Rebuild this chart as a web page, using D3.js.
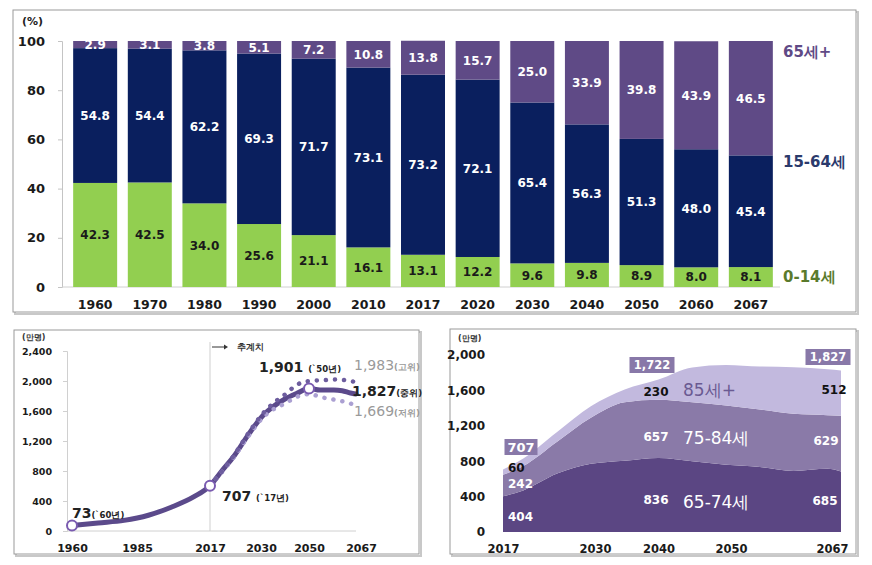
<!DOCTYPE html>
<html><head><meta charset="utf-8">
<script src="https://cdn.jsdelivr.net/npm/d3@7"></script>
<style>
body{margin:0;background:#fff}
svg{display:block}
text{font-family:"DejaVu Sans",Verdana,sans-serif}
</style>
</head><body>
<svg id="c" width="872" height="565"></svg>
<script>
// ---------- Panel 1: age structure (%) ----------
const years = ["1960","1970","1980","1990","2000","2010","2017","2020","2030","2040","2050","2060","2067"];
const age0_14  = [42.3,42.5,34.0,25.6,21.1,16.1,13.1,12.2,9.6,9.8,8.9,8.0,8.1];
const age15_64 = [54.8,54.4,62.2,69.3,71.7,73.1,73.2,72.1,65.4,56.3,51.3,48.0,45.4];
const age65p   = [2.9,3.1,3.8,5.1,7.2,10.8,13.8,15.7,25.0,33.9,39.8,43.9,46.5];
const pctTicks = [0,20,40,60,80,100];
const groupNames = ["0-14세","15-64세","65세+"];

// ---------- Panel 2: elderly population (만명) ----------
const lineYears = [1960,1970,1980,1990,2000,2010,2017,2020,2023,2027,2031,2035,2040,2045,2050,2054,2059,2062,2065,2067];
const lineMid   = [73,108,142,210,317,457,604,800,990,1302,1547,1658,1760,1836,1901,1880,1880,1871,1840,1827];
const projYearsL = [2017,2023,2027,2031,2035,2040,2045,2050,2055,2060,2065,2067];
const lineHigh  = [604,1000,1320,1575,1700,1820,1950,2000,2010,2020,2000,1983];
const lineLow   = [604,980,1280,1520,1620,1700,1790,1825,1780,1745,1700,1669];
const lineTicksX = [1960,1985,2017,2030,2050,2067];
const lineTicksY = [0,400,800,1200,1600,2000,2400];

// ---------- Panel 3: elderly by age band (만명) ----------
const areaYears = [2017,2020,2025,2030,2035,2040,2045,2050,2055,2060,2065,2067];
const age65_74 = [404,470,660,770,805,836,800,760,735,690,715,685];
const age75_84 = [242,275,360,520,660,657,665,670,650,645,605,629];
const age85p   = [60,85,110,130,145,230,395,458,485,527,520,512];
const totalYears  = [2017,2040,2067];
const totalLabels = [707,1722,1827];
const areaTicksX = [2017,2030,2040,2050,2067];
const areaTicksY = [0,400,800,1200,1600,2000];

const svg = d3.select("#c");

function frame(x,y,w,h){
  svg.append("rect").attr("x",x+2).attr("y",y+2).attr("width",w).attr("height",h)
    .attr("fill","none").attr("stroke","#c8c8c8").attr("stroke-width",2);
  svg.append("rect").attr("x",x).attr("y",y).attr("width",w).attr("height",h)
    .attr("fill","#fff").attr("stroke","#9a9a9a").attr("stroke-width",1);
}
frame(13,10,843,302);
frame(14,330,405,224);
frame(450,329,406,225);

// ===== Panel 1 =====
const colGreen="#92cf50", colNavy="#0a1f5e", colPurple="#5f4a86";
const table = years.map((y,i)=>({year:y, a:age0_14[i], b:age15_64[i], c:age65p[i]}));
const stack = d3.stack().keys(["a","b","c"])(table);
const x1 = d3.scaleBand().domain(years).range([67.7,778.3]).paddingInner(0.195).paddingOuter(0.1);
const y1 = d3.scaleLinear().domain([0,100]).range([287,41]);
const g1 = svg.append("g");

const yAx1 = g1.append("g").attr("transform","translate(62,0)")
  .call(d3.axisLeft(y1).tickValues(pctTicks).tickSize(4).tickPadding(13));
yAx1.selectAll("path,line").attr("stroke","#c4c4c4");
yAx1.selectAll("text").attr("font-size",13).attr("font-weight","bold").attr("fill","#1a1a1a");
g1.append("line").attr("x1",62).attr("x2",780).attr("y1",287).attr("y2",287).attr("stroke","#d0d0d0");

const xAx1 = g1.append("g").attr("transform","translate(0,287)")
  .call(d3.axisBottom(x1).tickSize(0).tickPadding(13));
xAx1.select(".domain").remove();
xAx1.selectAll("text").attr("font-size",12.5).attr("font-weight","bold").attr("fill","#1a1a1a");

const fills=[colGreen,colNavy,colPurple];
const txtCol=["#1a1a1a","#fff","#fff"];
stack.forEach((s,k)=>{
  g1.append("g").selectAll("rect").data(s).join("rect")
    .attr("x",d=>x1(d.data.year)).attr("width",x1.bandwidth())
    .attr("y",d=>y1(d[1])).attr("height",d=>y1(d[0])-y1(d[1]))
    .attr("fill",fills[k]);
  g1.append("g").selectAll("text").data(s).join("text")
    .attr("x",d=>x1(d.data.year)+x1.bandwidth()/2)
    .attr("y",d=>y1((d[0]+d[1])/2)).attr("dy","0.36em")
    .attr("text-anchor","middle").attr("font-size",12).attr("font-weight","bold")
    .attr("fill",txtCol[k])
    .text(d=>d3.format(".1f")(d[1]-d[0]));
});
g1.append("text").attr("x",22).attr("y",25).attr("font-size",11).attr("font-weight","bold").attr("fill","#222").text("(%)");
const legY=[282,167,57], legC=["#5a7a2c","#2b3a6c","#5f4a86"];
groupNames.forEach((n,i)=>{
  g1.append("text").attr("x",783).attr("y",legY[i]).attr("font-size",15).attr("font-weight","bold")
    .attr("fill",legC[i]).text(n);
});

// ===== Panel 2 =====
const x2 = d3.scaleLinear().domain(lineTicksX).range([72,137,210,261,309,356]);
const y2 = d3.scaleLinear().domain([0,2400]).range([531,351]);
const g2 = svg.append("g");
g2.append("text").attr("x",22).attr("y",340).attr("font-size",8).attr("font-weight","bold").attr("fill","#333").text("(만명)");
const yAx2 = g2.append("g").attr("transform","translate(67,0)")
  .call(d3.axisLeft(y2).tickValues(lineTicksY).tickFormat(d3.format(",")).tickSize(4).tickPadding(11));
yAx2.selectAll("path,line").attr("stroke","#d0d0d0");
yAx2.selectAll("text").attr("font-size",9.5).attr("font-weight","bold").attr("fill","#1a1a1a");
const xAx2 = g2.append("g").attr("transform","translate(0,531)")
  .call(d3.axisBottom(x2).tickValues(lineTicksX).tickFormat(d3.format("d")).tickSize(0).tickPadding(13));
xAx2.select(".domain").attr("stroke","#d0d0d0").attr("d","M67,0H356");
xAx2.selectAll("text").attr("font-size",11).attr("font-weight","bold").attr("fill","#1a1a1a");
xAx2.selectAll(".tick").filter(d=>d===2067).select("text").attr("dx",5);

g2.append("line").attr("x1",x2(2017)).attr("x2",x2(2017)).attr("y1",342).attr("y2",531).attr("stroke","#cfcfcf");
g2.append("line").attr("x1",x2(2017)+2).attr("x2",x2(2017)+15).attr("y1",347).attr("y2",347).attr("stroke","#333").attr("stroke-width",1);
g2.append("path").attr("d",`M${x2(2017)+18},347 l-4,-2.5 v5 z`).attr("fill","#333");
g2.append("text").attr("x",x2(2017)+27).attr("y",350).attr("font-size",8.5).attr("font-weight","bold").attr("fill","#333").text("추계치");

const lineGen = d3.line().x(d=>x2(d[0])).y(d=>y2(d[1])).curve(d3.curveMonotoneX);
g2.append("path").attr("d",lineGen(lineYears.map((y,i)=>[y,lineMid[i]])))
  .attr("fill","none").attr("stroke","#5b4a8b").attr("stroke-width",5).attr("stroke-linecap","round");
g2.append("path").attr("d",lineGen(projYearsL.map((y,i)=>[y,lineLow[i]])))
  .attr("fill","none").attr("stroke","#aba0d2").attr("stroke-width",4.5)
  .attr("stroke-dasharray","0.1 9").attr("stroke-linecap","round");
g2.append("path").attr("d",lineGen(projYearsL.map((y,i)=>[y,lineHigh[i]])))
  .attr("fill","none").attr("stroke","#6d5d9e").attr("stroke-width",4.5)
  .attr("stroke-dasharray","0.1 9").attr("stroke-linecap","round");
const markYears=[1960,2017,2050];
g2.selectAll("circle.m").data(markYears).join("circle")
  .attr("cx",d=>x2(d)).attr("cy",d=>y2(lineMid[lineYears.indexOf(d)]))
  .attr("r",5).attr("fill","#fff").attr("stroke","#7a5bb0").attr("stroke-width",2);

function lab(g,x,y,big,small,col,wt){
  const t=g.append("text").attr("x",x).attr("y",y).attr("fill",col);
  t.append("tspan").attr("font-size",14).attr("font-weight",wt).text(big);
  t.append("tspan").attr("font-size",8.5).attr("font-weight","bold").text(small);
}
lab(g2,72,518,"73","(`60년)","#222","bold");
lab(g2,222,501,"707 ","(`17년)","#222","bold");
lab(g2,259,372,"1,901 ","(`50년)","#222","bold");
lab(g2,354,370,"1,983","(고위)","#9a9a9a","normal");
lab(g2,352,396,"1,827","(중위)","#222","bold");
lab(g2,354,416,"1,669","(저위)","#9a9a9a","normal");

// ===== Panel 3 =====
const x3 = d3.scaleLinear().domain([2017,2067]).range([503,841]);
const y3 = d3.scaleLinear().domain([0,2000]).range([532,355]);
const g3 = svg.append("g");
g3.append("text").attr("x",458).attr("y",341).attr("font-size",8).attr("font-weight","bold").attr("fill","#333").text("(만명)");
const aTable = areaYears.map((y,i)=>({year:y,a:age65_74[i],b:age75_84[i],c:age85p[i]}));
const aStack = d3.stack().keys(["a","b","c"])(aTable);
const areaGen = d3.area().x(d=>x3(d.data.year)).y0(d=>y3(d[0])).y1(d=>y3(d[1])).curve(d3.curveMonotoneX);
const aFill=["#5b4683","#8a7aa8","#c2b9de"];
aStack.forEach((s,k)=>{
  g3.append("path").attr("d",areaGen(s)).attr("fill",aFill[k]);
});
const yAx3 = g3.append("g").attr("transform","translate(490,0)")
  .call(d3.axisLeft(y3).tickValues(areaTicksY).tickFormat(d3.format(",")).tickSize(0).tickPadding(5));
yAx3.select(".domain").remove();
yAx3.selectAll("text").attr("font-size",12).attr("font-weight","bold").attr("fill","#1a1a1a");
const xAx3 = g3.append("g").attr("transform","translate(0,532)")
  .call(d3.axisBottom(x3).tickValues(areaTicksX).tickFormat(d3.format("d")).tickSize(0).tickPadding(13));
xAx3.select(".domain").remove();
xAx3.selectAll("text").attr("font-size",11.5).attr("font-weight","bold").attr("fill","#1a1a1a");
xAx3.selectAll(".tick").filter(d=>d===2067).select("text").attr("dx",-9);
xAx3.selectAll(".tick").filter(d=>d===2050).select("text").attr("dx",5);
xAx3.selectAll(".tick").filter(d=>d===2030).select("text").attr("dx",4);

// total boxes
const boxPos=[[521,447],[652,365],[828,357]];
totalLabels.forEach((v,j)=>{
  const txt=d3.format(",")(v);
  const w=txt.length>3?45:33;
  const [bx,by]=boxPos[j];
  g3.append("rect").attr("x",bx-w/2).attr("y",by-8).attr("width",w).attr("height",16).attr("fill","#8878a8");
  g3.append("text").attr("x",bx).attr("y",by).attr("dy","0.36em").attr("text-anchor","middle")
    .attr("font-size",txt.length>3?11.5:13).attr("font-weight","bold").attr("fill","#fff").text(txt);
});
// segment values
const segX={2017:[508,508,508],2040:[656,656,656],2067:[825,826,834]};
const segAnchor={2017:"start",2040:"middle",2067:"middle"};
const segY={2017:[517,484,468],2040:[500,437,392],2067:[501,441,390]};
const segCol=["#fff","#fff","#111"];
const series=[age65_74,age75_84,age85p];
totalYears.forEach(yr=>{
  const i=areaYears.indexOf(yr);
  series.forEach((s,k)=>{
    g3.append("text").attr("x",segX[yr][k]).attr("y",segY[yr][k]).attr("dy","0.36em")
      .attr("text-anchor",segAnchor[yr]).attr("font-size",12).attr("font-weight","bold")
      .attr("fill",segCol[k]).text(s[i]);
  });
});
const bandNames=["65-74세","75-84세","85세+"];
const bandY=[502,438,390], bandCol=["#fff","#fff","#6a5a92"];
bandNames.forEach((n,k)=>{
  g3.append("text").attr("x",683).attr("y",bandY[k]).attr("dy","0.36em")
    .attr("font-size",17).attr("fill",bandCol[k]).text(n);
});
</script>
</body></html>
